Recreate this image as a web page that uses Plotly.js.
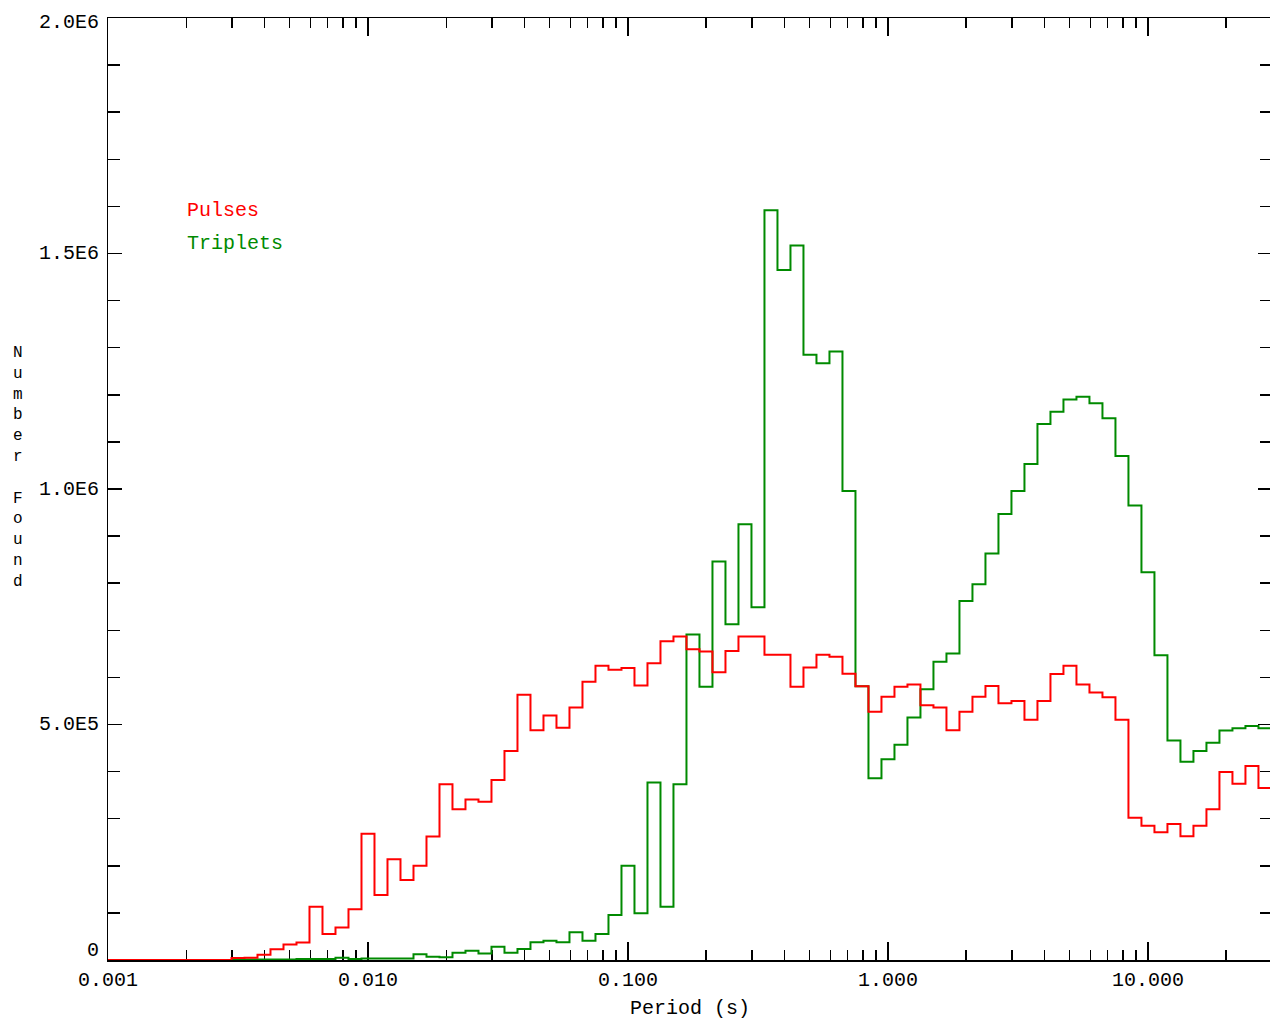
<!DOCTYPE html>
<html>
<head>
<meta charset="utf-8">
<script src="https://cdn.plot.ly/plotly-3.0.1.min.js"></script>
<style>
html,body{margin:0;padding:0;overflow:hidden;background:#fff;width:1270px;height:1020px;}
#chart{width:1280px;height:1020px;}
</style>
</head>
<body>
<div id="chart"></div>
<script>
// Histogram: 20 logarithmic bins per decade, first bin centred at 10^-3 s
const firstBinLog = -3;
const binsPerDecade = 20;

// Counts per bin (bin 0 .. bin 89)
const pulsesCounts = [
  0,0,0,0,0,0,0,0,0,0,
  4000,5000,11000,23000,33000,37000,113000,55000,69000,108000,
  268000,138000,214000,170000,200000,262000,373000,320000,341000,336000,
  382000,444000,563000,488000,519000,493000,536000,591000,625000,616000,
  620000,583000,630000,677000,687000,660000,655000,611000,656000,687000,
  687000,648000,648000,580000,621000,648000,644000,608000,581000,527000,
  559000,580000,585000,541000,536000,488000,527000,559000,582000,545000,
  550000,510000,550000,607000,625000,585000,568000,558000,510000,302000,
  285000,271000,289000,263000,285000,320000,399000,374000,412000,365000
];
const tripletsCounts = [
  0,0,0,0,0,0,0,0,0,0,
  0,1000,1000,1000,1000,2000,2000,2000,5000,2000,
  3000,3000,3000,3000,12000,7000,6000,15600,19800,14000,
  28000,15600,23400,37500,41000,37500,58800,41000,55200,95500,
  200000,99000,377000,113000,373000,691000,580000,846000,713000,925000,
  749000,1592000,1465000,1517000,1285000,1267000,1292000,996000,581000,386000,
  426000,457000,515000,575000,633000,651000,762000,798000,863000,947000,
  996000,1053000,1138000,1164000,1190000,1196000,1182000,1150000,1070000,965000,
  823000,647000,466000,421000,444000,461000,487000,492000,497000,492000
];

const seriesNames = ["Pulses", "Triplets"];
const seriesColors = ["#ff0000", "#008a00"];

const xTickVals = [0.001, 0.01, 0.1, 1, 10];
const xTickText = ["0.001", "0.010", "0.100", "1.000", "10.000"];
const yTickVals = [0, 500000, 1000000, 1500000, 2000000];
const yTickText = ["0", "5.0E5", "1.0E6", "1.5E6", "2.0E6"];
const xTitle = "Period (s)";
const yTitle = "Number Found";

const FONT = "Liberation Mono, DejaVu Sans Mono, monospace";

function stepXY(counts) {
  const xs = [], ys = [];
  for (let k = 0; k < counts.length; k++) {
    xs.push(Math.pow(10, firstBinLog + (k - 0.5) / binsPerDecade));
    ys.push(counts[k]);
  }
  const n = counts.length;
  xs.push(Math.pow(10, firstBinLog + (n - 0.5) / binsPerDecade));
  ys.push(counts[n - 1]);
  return {xs, ys};
}

const g = stepXY(tripletsCounts);
const r = stepXY(pulsesCounts);

const traces = [
  {x: g.xs, y: g.ys, type: "scatter", mode: "lines", name: seriesNames[1],
   line: {shape: "hv", color: seriesColors[1], width: 2}},
  {x: r.xs, y: r.ys, type: "scatter", mode: "lines", name: seriesNames[0],
   line: {shape: "hv", color: seriesColors[0], width: 2}}
];

// minor tick positions for the log axis (2..9 in each decade)
const xMinor = [];
for (let d = -3; d <= 1; d++) for (let m = 2; m <= 9; m++) {
  const v = m * Math.pow(10, d);
  if (v <= 30) xMinor.push(v);
}

const W = 1280, H = 1020;
const M = {l: 108, r: 8, t: 18, b: 60};
const plotH = H - M.t - M.b;
const plotW = W - M.l - M.r;

const annotations = [];
// y tick labels
yTickVals.forEach((v, i) => {
  let ys = 0;
  if (i === 0) ys = 10;
  if (i === yTickVals.length - 1) ys = -4;
  annotations.push({
    xref: "paper", yref: "y", x: 0, y: v, xanchor: "right", yanchor: "middle",
    xshift: -7, yshift: ys, showarrow: false, text: yTickText[i],
    font: {family: FONT, size: 20, color: "#000"}
  });
});
// vertical stacked y title (one letter per line)
annotations.push({
  xref: "paper", yref: "paper",
  x: (18 - M.l) / plotW, y: (H - M.b - 467) / plotH,
  xanchor: "center", yanchor: "middle", showarrow: false,
  text: yTitle.split("").map(ch => ch === " " ? "&nbsp;" : ch).join("<br>"),
  font: {family: FONT, size: 16, color: "#000"}
});
// legend text
[[seriesNames[0], seriesColors[0], 211], [seriesNames[1], seriesColors[1], 244]].forEach(([t, c, py]) => {
  annotations.push({
    xref: "paper", yref: "paper",
    x: (185 - M.l) / plotW, y: (H - M.b - py) / plotH,
    xanchor: "left", yanchor: "middle", showarrow: false, text: t,
    font: {family: FONT, size: 20, color: c}
  });
});

const layout = {
  width: W, height: H,
  margin: M,
  paper_bgcolor: "#fff", plot_bgcolor: "#fff",
  showlegend: false,
  font: {family: FONT, size: 20, color: "#000"},
  xaxis: {
    type: "log",
    range: [-3, Math.log10(30)],
    tickmode: "array", tickvals: xTickVals, ticktext: xTickText,
    ticks: "inside", ticklen: 18, tickwidth: 1.5, tickcolor: "#000",
    minor: {tickmode: "array", tickvals: xMinor, ticks: "inside", ticklen: 10, tickwidth: 1.5, tickcolor: "#000", showgrid: false},
    showline: true, linecolor: "#000", linewidth: 1.5, mirror: "ticks",
    showgrid: false, zeroline: false, layer: "below traces",
    tickfont: {family: FONT, size: 20, color: "#000"},
    title: {text: xTitle, font: {family: FONT, size: 20, color: "#000"}, standoff: 10}
  },
  yaxis: {
    range: [0, 2000000],
    tickmode: "array", tickvals: yTickVals,
    showticklabels: false,
    ticks: "inside", ticklen: 14, tickwidth: 1.5, tickcolor: "#000",
    minor: {dtick: 100000, ticks: "inside", ticklen: 12, tickwidth: 1.5, tickcolor: "#000", showgrid: false},
    showline: true, linecolor: "#000", linewidth: 1.5, mirror: "ticks",
    showgrid: false, zeroline: false, layer: "below traces"
  },
  annotations: annotations
};

Plotly.newPlot("chart", traces, layout, {staticPlot: true, displayModeBar: false});
</script>
</body>
</html>
